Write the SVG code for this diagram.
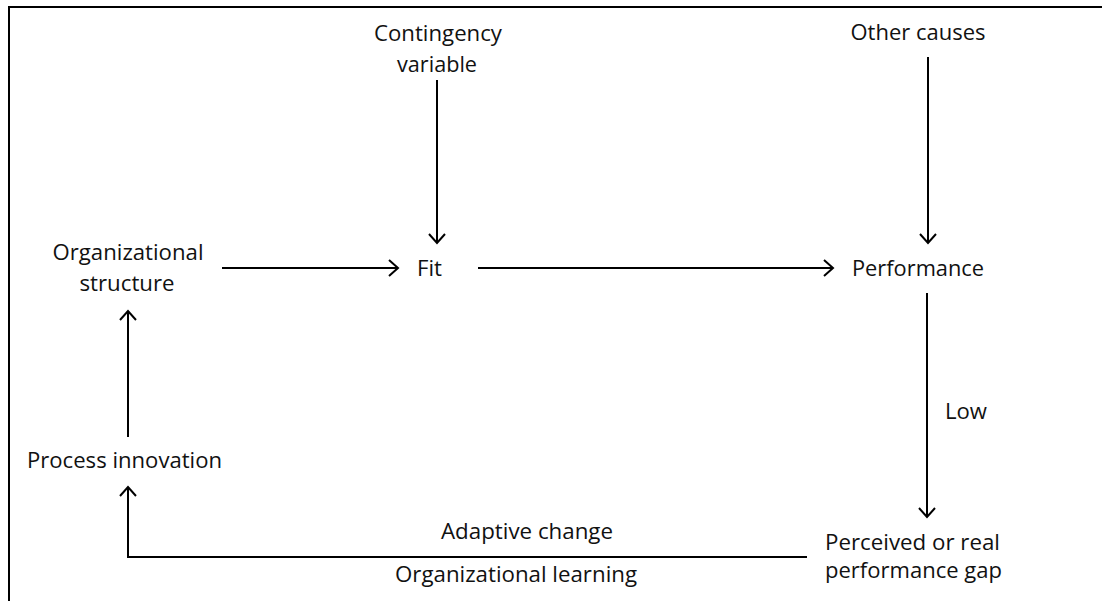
<svg xmlns="http://www.w3.org/2000/svg" width="1102" height="601" viewBox="0 0 1102 601">
<style>
text{font-family:"Open Sans","Liberation Sans",sans-serif;font-size:22px;fill:#111}
.c{text-anchor:middle}
.ln{stroke:#000;stroke-width:2;fill:none}
</style>
<defs>
<marker id="ah" markerUnits="userSpaceOnUse" markerWidth="24" markerHeight="24" viewBox="-12 -12 24 24" refX="0" refY="0" orient="auto">
<path d="M-9,-8 L0,0 L-9,8" fill="none" stroke="#000" stroke-width="2"/>
</marker>
</defs>
<rect width="1102" height="601" fill="#fff"/>
<g id="frame"><path class="ln" d="M9,601 V7 H1102"/></g>
<g id="connectors">
<line class="ln" x1="437" y1="80" x2="437" y2="243" marker-end="url(#ah)"/>
<line class="ln" x1="928" y1="57" x2="928" y2="243" marker-end="url(#ah)"/>
<line class="ln" x1="222" y1="268" x2="398" y2="268" marker-end="url(#ah)"/>
<line class="ln" x1="478" y1="268" x2="833" y2="268" marker-end="url(#ah)"/>
<line class="ln" x1="927" y1="293" x2="927" y2="517" marker-end="url(#ah)"/>
<polyline class="ln" points="807,557 128,557 128,487" marker-end="url(#ah)"/>
<line class="ln" x1="128" y1="437" x2="128" y2="311" marker-end="url(#ah)"/>
<text x="945" y="419" textLength="42" lengthAdjust="spacingAndGlyphs">Low</text>
<text class="c" x="527" y="539" textLength="172" lengthAdjust="spacingAndGlyphs">Adaptive change</text>
<text class="c" x="516" y="582" textLength="242" lengthAdjust="spacingAndGlyphs">Organizational learning</text>
</g>
<g id="contingency">
<text class="c" x="438" y="41" textLength="128" lengthAdjust="spacingAndGlyphs">Contingency</text>
<text class="c" x="437" y="72" textLength="80" lengthAdjust="spacingAndGlyphs">variable</text>
</g>
<g id="other-causes">
<text class="c" x="918" y="40" textLength="135" lengthAdjust="spacingAndGlyphs">Other causes</text>
</g>
<g id="org-structure">
<text class="c" x="128" y="260" textLength="151" lengthAdjust="spacingAndGlyphs">Organizational</text>
<text class="c" x="127" y="291" textLength="95" lengthAdjust="spacingAndGlyphs">structure</text>
</g>
<g id="fit">
<text class="c" x="429.5" y="276" textLength="25" lengthAdjust="spacingAndGlyphs">Fit</text>
</g>
<g id="performance">
<text class="c" x="918" y="276" textLength="132" lengthAdjust="spacingAndGlyphs">Performance</text>
</g>
<g id="process-innovation">
<text class="c" x="124.5" y="468" textLength="195" lengthAdjust="spacingAndGlyphs">Process innovation</text>
</g>
<g id="performance-gap">
<text x="825" y="550" textLength="175" lengthAdjust="spacingAndGlyphs">Perceived or real</text>
<text x="825" y="578" textLength="177" lengthAdjust="spacingAndGlyphs">performance gap</text>
</g>
</svg>
